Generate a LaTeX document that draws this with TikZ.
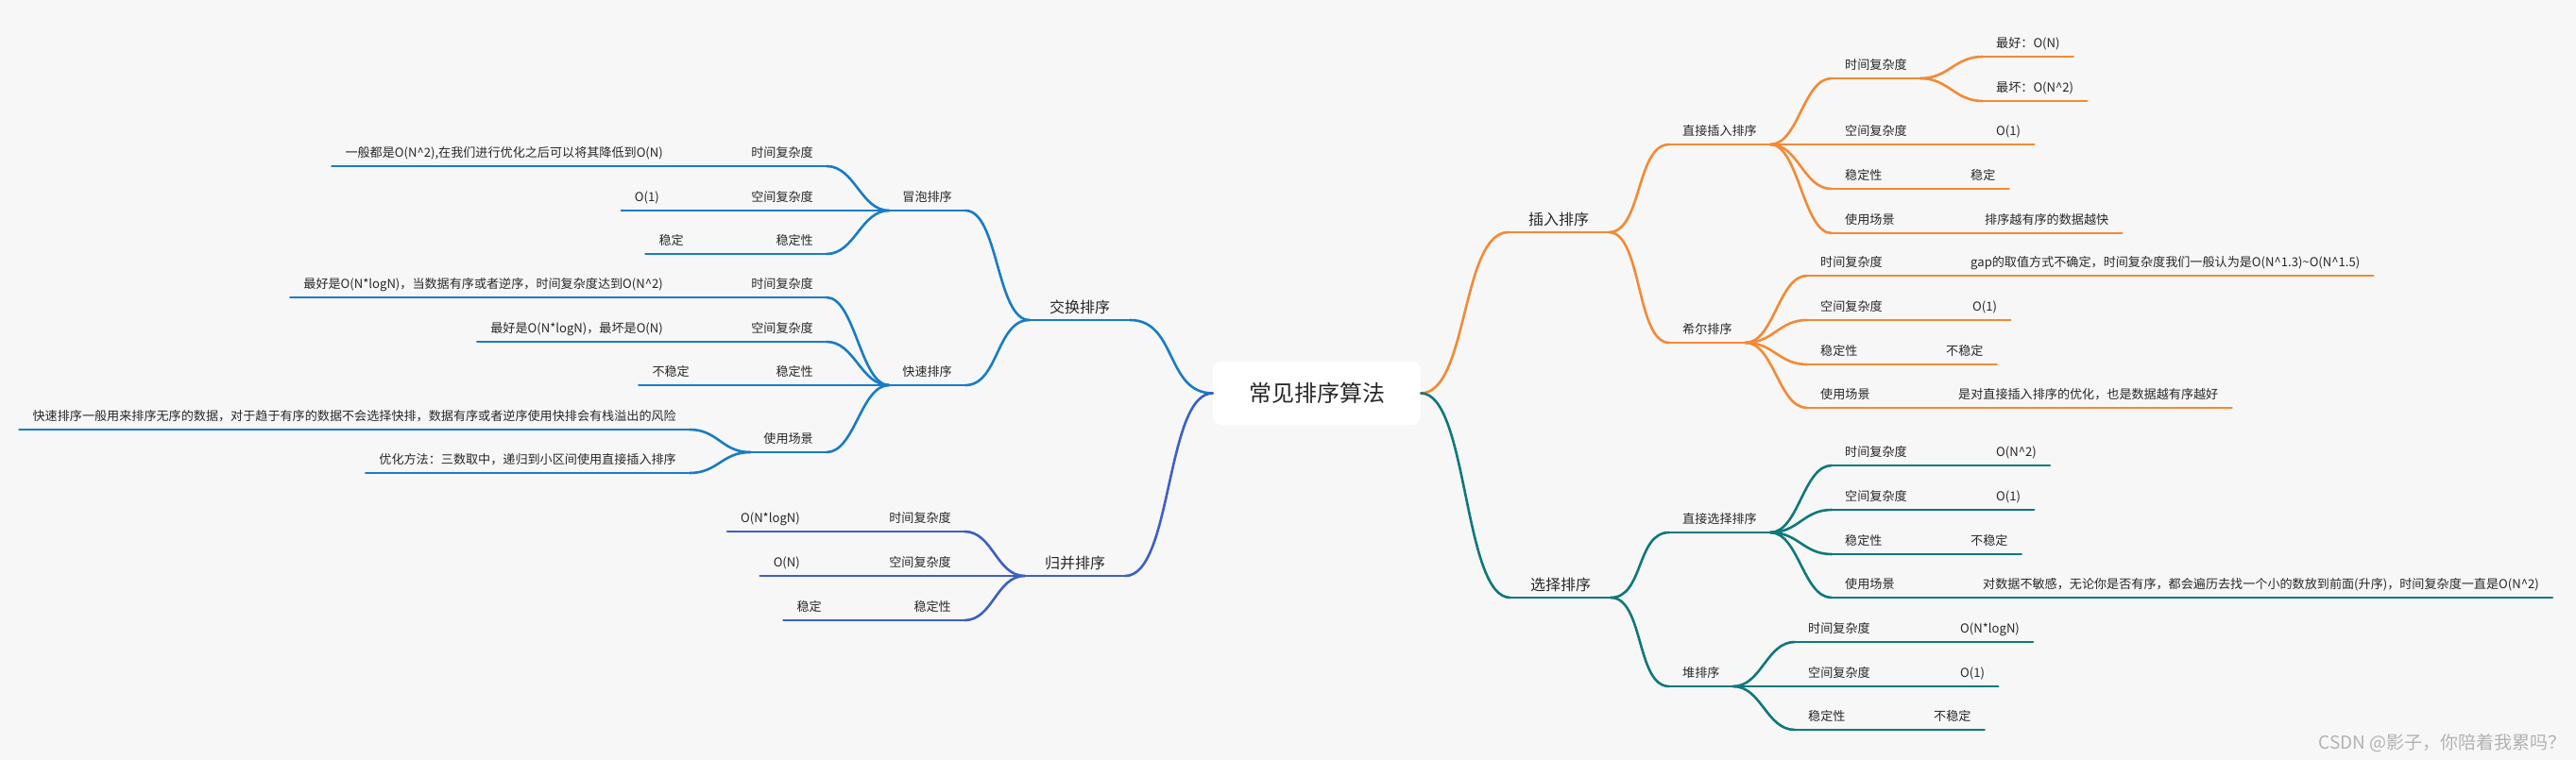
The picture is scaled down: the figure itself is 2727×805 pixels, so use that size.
\documentclass[tikz,border=0pt]{standalone}
\usepackage{fontspec}
\setmainfont{Noto Sans CJK SC}
\definecolor{bgc}{RGB}{247,247,247}
\definecolor{txt}{RGB}{40,40,40}
\definecolor{org}{RGB}{246,137,51}
\definecolor{blu}{RGB}{24,124,199}
\definecolor{tea}{RGB}{14,120,124}
\definecolor{ind}{RGB}{61,95,199}
\definecolor{wm}{RGB}{178,178,178}
\newcommand\cnR[4]{\draw[con=#1] (#2.south east) .. controls +(#4,0) and +(-#4,0) .. (#3.south west);}
\newcommand\cnL[4]{\draw[con=#1] (#2.south west) .. controls +(-#4,0) and +(#4,0) .. (#3.south east);}
\tikzset{
  lbl/.style={font=\fontsize{13.1}{14}\selectfont, text=txt, inner xsep=14pt, inner ysep=9pt, text height=10pt, text depth=0pt},
  ul/.style={append after command={(\tikzlastnode.south west) edge[draw=#1, line width=2.6pt, line cap=round] (\tikzlastnode.south east)}},
  R/.style={lbl, anchor=south west, ul=#1},
  L/.style={lbl, anchor=south east, ul=#1},
  lvone/.style={font=\fontsize{16}{17}\selectfont, text=txt, inner xsep=21pt, inner ysep=7pt, text height=12pt, text depth=0pt, anchor=south, ul=#1},
  con/.style={draw=#1, line width=2.6pt, line cap=round},
  rootbox/.style={fill=white, rounded corners=9pt, minimum width=220pt, minimum height=67pt, inner sep=0pt, font=\fontsize{24}{26}\selectfont, text=txt}
}
\begin{document}
\begin{tikzpicture}[x=1pt,y=-1pt]
\fill[fill=bgc] (0,0) rectangle (2727,805);
\useasboundingbox (0,0) rectangle (2727,805);

\node[rootbox] (root) at (1394,416.5) {常见排序算法};

% ---------- insertion (orange)
\node[lvone=org] (ins) at (1650,246) {插入排序};
\node[R=org] (zjcr) at (1767,153) {直接插入排序};
\node[R=org] (zjT) at (1939,83) {时间复杂度};
\node[R=org] (zjTa) at (2099,60) {最好：O(N)};
\node[R=org] (zjTb) at (2099,107) {最坏：O(N\textasciicircum{}2)};
\node[R=org] (zjS) at (1939,153) {空间复杂度};
\node[R=org] (zjSa) at (2099,153) {O(1)};
\node[R=org] (zjW) at (1939,200) {稳定性};
\node[R=org] (zjWa) at (2072,200) {稳定};
\node[R=org] (zjU) at (1939,247) {使用场景};
\node[R=org] (zjUa) at (2087,247) {排序越有序的数据越快};

\node[R=org] (xe) at (1767,363) {希尔排序};
\node[R=org] (xeT) at (1913,292) {时间复杂度};
\node[R=org] (xeTa) at (2072,292) {gap的取值方式不确定，时间复杂度我们一般认为是O(N\textasciicircum{}1.3)\textasciitilde{}O(N\textasciicircum{}1.5)};
\node[R=org] (xeS) at (1913,339) {空间复杂度};
\node[R=org] (xeSa) at (2074,339) {O(1)};
\node[R=org] (xeW) at (1913,386) {稳定性};
\node[R=org] (xeWa) at (2046,386) {不稳定};
\node[R=org] (xeU) at (1913,432) {使用场景};
\node[R=org] (xeUa) at (2059,432) {是对直接插入排序的优化，也是数据越有序越好};

% ---------- selection (teal)
\node[lvone=tea] (sel) at (1652,633) {选择排序};
\node[R=tea] (zx) at (1767,564) {直接选择排序};
\node[R=tea] (zxT) at (1939,493) {时间复杂度};
\node[R=tea] (zxTa) at (2099,493) {O(N\textasciicircum{}2)};
\node[R=tea] (zxS) at (1939,540) {空间复杂度};
\node[R=tea] (zxSa) at (2099,540) {O(1)};
\node[R=tea] (zxW) at (1939,587) {稳定性};
\node[R=tea] (zxWa) at (2072,587) {不稳定};
\node[R=tea] (zxU) at (1939,633) {使用场景};
\node[R=tea] (zxUa) at (2085,633) {对数据不敏感，无论你是否有序，都会遍历去找一个小的数放到前面(升序)，时间复杂度一直是O(N\textasciicircum{}2)};

\node[R=tea] (dui) at (1767,727) {堆排序};
\node[R=tea] (duiT) at (1900,680) {时间复杂度};
\node[R=tea] (duiTa) at (2061,680) {O(N*logN)};
\node[R=tea] (duiS) at (1900,727) {空间复杂度};
\node[R=tea] (duiSa) at (2061,727) {O(1)};
\node[R=tea] (duiW) at (1900,773) {稳定性};
\node[R=tea] (duiWa) at (2033,773) {不稳定};

% ---------- exchange (blue)
\node[lvone=blu] (jh) at (1143,339) {交换排序};
\node[L=blu] (mp) at (1022,223) {冒泡排序};
\node[L=blu] (mpT) at (875,176) {时间复杂度};
\node[L=blu] (mpTa) at (716,176) {一般都是O(N\textasciicircum{}2),在我们进行优化之后可以将其降低到O(N)};
\node[L=blu] (mpS) at (875,223) {空间复杂度};
\node[L=blu] (mpSa) at (712,223) {O(1)};
\node[L=blu] (mpW) at (875,269) {稳定性};
\node[L=blu] (mpWa) at (738,269) {稳定};

\node[L=blu] (ks) at (1022,408) {快速排序};
\node[L=blu] (ksT) at (875,315) {时间复杂度};
\node[L=blu] (ksTa) at (716,315) {最好是O(N*logN)，当数据有序或者逆序，时间复杂度达到O(N\textasciicircum{}2)};
\node[L=blu] (ksS) at (875,362) {空间复杂度};
\node[L=blu] (ksSa) at (716,362) {最好是O(N*logN)，最坏是O(N)};
\node[L=blu] (ksW) at (875,408) {稳定性};
\node[L=blu] (ksWa) at (744,408) {不稳定};
\node[L=blu] (ksU) at (875,479) {使用场景};
\node[L=blu] (ksUa) at (730,455) {快速排序一般用来排序无序的数据，对于趋于有序的数据不会选择快排，数据有序或者逆序使用快排会有栈溢出的风险};
\node[L=blu] (ksUb) at (730,501) {优化方法：三数取中，递归到小区间使用直接插入排序};

% ---------- merge (indigo)
\node[lvone=ind] (gb) at (1138,610) {归并排序};
\node[L=ind] (gbT) at (1021,563) {时间复杂度};
\node[L=ind] (gbTa) at (861,563) {O(N*logN)};
\node[L=ind] (gbS) at (1021,610) {空间复杂度};
\node[L=ind] (gbSa) at (861,610) {O(N)};
\node[L=ind] (gbW) at (1021,657) {稳定性};
\node[L=ind] (gbWa) at (884,657) {稳定};

% ---------- connectors
\draw[con=org] (root.east) .. controls +(50,0) and +(-50,0) .. (ins.south west);
\draw[con=tea] (root.east) .. controls +(50,0) and +(-50,0) .. (sel.south west);
\draw[con=blu] (root.west) .. controls +(-50,0) and +(50,0) .. (jh.south east);
\draw[con=ind] (root.west) .. controls +(-50,0) and +(50,0) .. (gb.south east);

\cnR{org}{ins}{zjcr}{35}
\cnR{org}{ins}{xe}{35}
\cnR{org}{zjcr}{zjT}{30}
\cnR{org}{zjcr}{zjS}{30}
\cnR{org}{zjcr}{zjW}{30}
\cnR{org}{zjcr}{zjU}{30}
\cnR{org}{zjT}{zjTa}{30}
\cnR{org}{zjT}{zjTb}{30}
\cnR{org}{zjS}{zjSa}{30}
\cnR{org}{zjW}{zjWa}{30}
\cnR{org}{zjU}{zjUa}{30}
\cnR{org}{xe}{xeT}{30}
\cnR{org}{xe}{xeS}{30}
\cnR{org}{xe}{xeW}{30}
\cnR{org}{xe}{xeU}{30}
\cnR{org}{xeT}{xeTa}{30}
\cnR{org}{xeS}{xeSa}{30}
\cnR{org}{xeW}{xeWa}{30}
\cnR{org}{xeU}{xeUa}{30}

\cnR{tea}{sel}{zx}{35}
\cnR{tea}{sel}{dui}{35}
\cnR{tea}{zx}{zxT}{30}
\cnR{tea}{zx}{zxS}{30}
\cnR{tea}{zx}{zxW}{30}
\cnR{tea}{zx}{zxU}{30}
\cnR{tea}{zxT}{zxTa}{30}
\cnR{tea}{zxS}{zxSa}{30}
\cnR{tea}{zxW}{zxWa}{30}
\cnR{tea}{zxU}{zxUa}{30}
\cnR{tea}{dui}{duiT}{30}
\cnR{tea}{dui}{duiS}{30}
\cnR{tea}{dui}{duiW}{30}
\cnR{tea}{duiT}{duiTa}{30}
\cnR{tea}{duiS}{duiSa}{30}
\cnR{tea}{duiW}{duiWa}{30}

\cnL{blu}{jh}{mp}{35}
\cnL{blu}{jh}{ks}{35}
\cnL{blu}{mp}{mpT}{30}
\cnL{blu}{mp}{mpS}{30}
\cnL{blu}{mp}{mpW}{30}
\cnL{blu}{mpT}{mpTa}{30}
\cnL{blu}{mpS}{mpSa}{30}
\cnL{blu}{mpW}{mpWa}{30}
\cnL{blu}{ks}{ksT}{30}
\cnL{blu}{ks}{ksS}{30}
\cnL{blu}{ks}{ksW}{30}
\cnL{blu}{ks}{ksU}{30}
\cnL{blu}{ksT}{ksTa}{30}
\cnL{blu}{ksS}{ksSa}{30}
\cnL{blu}{ksW}{ksWa}{30}
\cnL{blu}{ksU}{ksUa}{30}
\cnL{blu}{ksU}{ksUb}{30}

\cnL{ind}{gb}{gbT}{30}
\cnL{ind}{gb}{gbS}{30}
\cnL{ind}{gb}{gbW}{30}
\cnL{ind}{gbT}{gbTa}{30}
\cnL{ind}{gbS}{gbSa}{30}
\cnL{ind}{gbW}{gbWa}{30}

% watermark
\node[anchor=east, inner sep=0pt, font=\fontsize{19}{20}\selectfont, text=wm] (wmk) at (2717,787) {CSDN @影子，你陪着我累吗？};
\end{tikzpicture}
\end{document}
